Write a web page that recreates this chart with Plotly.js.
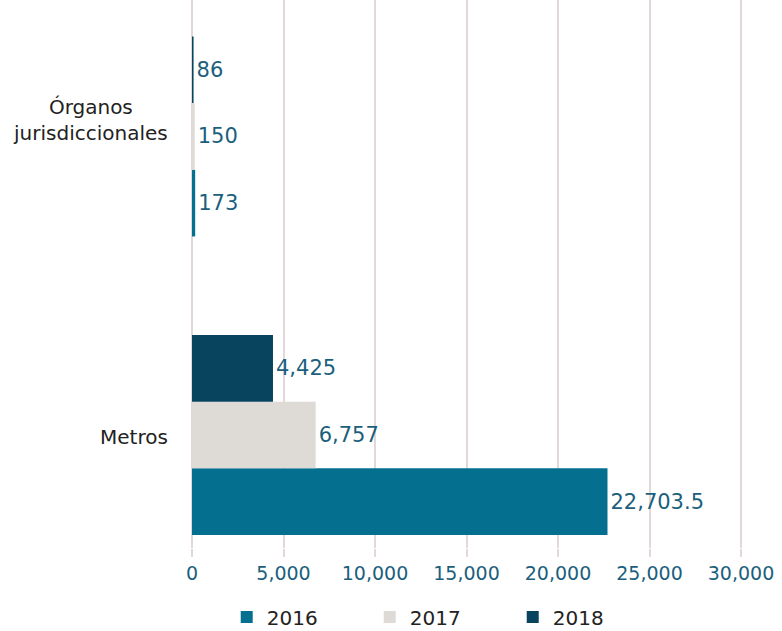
<!DOCTYPE html>
<html>
<head>
<meta charset="utf-8">
<script src="https://cdn.plot.ly/plotly-3.0.1.min.js"></script>
<style>html,body{margin:0;padding:0;background:#fff;}#chart{width:782px;height:631px;}</style>
</head>
<body>
<div id="chart"></div>
<script>
const categories = ["Metros", "Órganos jurisdiccionales"];
const categoryLabels = ["Metros", "Órganos<br>jurisdiccionales"];
const years = ["2016", "2017", "2018"];
const values2016 = [22703.5, 173];
const values2017 = [6757, 150];
const values2018 = [4425, 86];
const xTicks = [0, 5000, 10000, 15000, 20000, 25000, 30000];

const colors = {"2016": "#056f90", "2017": "#dedbd6", "2018": "#08445e"};
const seriesValues = {"2016": values2016, "2017": values2017, "2018": values2018};
const font = "DejaVu Sans, Verdana, sans-serif";

const traces = years.map(y => ({
  type: "bar",
  orientation: "h",
  name: y,
  y: categories,
  x: seriesValues[y],
  marker: {color: colors[y]},
  texttemplate: "%{x:,}",
  textposition: "outside",
  cliponaxis: false,
  textfont: {family: font, size: 21, color: "#1b5f7d"},
  hoverinfo: "skip"
}));

const layout = {
  width: 782, height: 631,
  margin: {l: 192, r: 30, t: 0, b: 83, autoexpand: false},
  paper_bgcolor: "#fff", plot_bgcolor: "#fff",
  barmode: "group",
  bargap: 0.33,
  bargroupgap: 0,
  showlegend: true,
  legend: {
    orientation: "h", x: 0.062, xanchor: "left", y: -0.126, yanchor: "middle",
    font: {family: font, size: 20, color: "#222"},
    entrywidth: 98, entrywidthmode: "pixels",
    traceorder: "normal"
  },
  xaxis: {
    range: [0, 30600],
    tickvals: xTicks,
    tickformat: ",",
    showgrid: true, gridcolor: "#e2d8d8", gridwidth: 2,
    zeroline: true, zerolinecolor: "#e2d8d8", zerolinewidth: 2,
    ticks: "outside", ticklen: 8, tickcolor: "#e2d8d8", tickwidth: 2,
    tickfont: {family: font, size: 19, color: "#1b5f7d"},
    showline: false, fixedrange: true, automargin: false
  },
  yaxis: {
    type: "category",
    categoryorder: "array", categoryarray: categories,
    range: [-0.3786, 1.457],
    showticklabels: false, ticks: "",
    showgrid: false, zeroline: false, showline: false, fixedrange: true, automargin: false
  },
  annotations: categories.map((c, i) => ({
    xref: "paper", yref: "y", x: 0, y: c,
    xanchor: "right", yanchor: "middle", xshift: -22,
    yshift: i === 1 ? 16 : -2,
    align: "center", showarrow: false,
    text: categoryLabels[i],
    font: {family: font, size: 20, color: "#222"}
  }))
};

Plotly.newPlot("chart", traces, layout, {staticPlot: true, displayModeBar: false});
</script>
</body>
</html>
